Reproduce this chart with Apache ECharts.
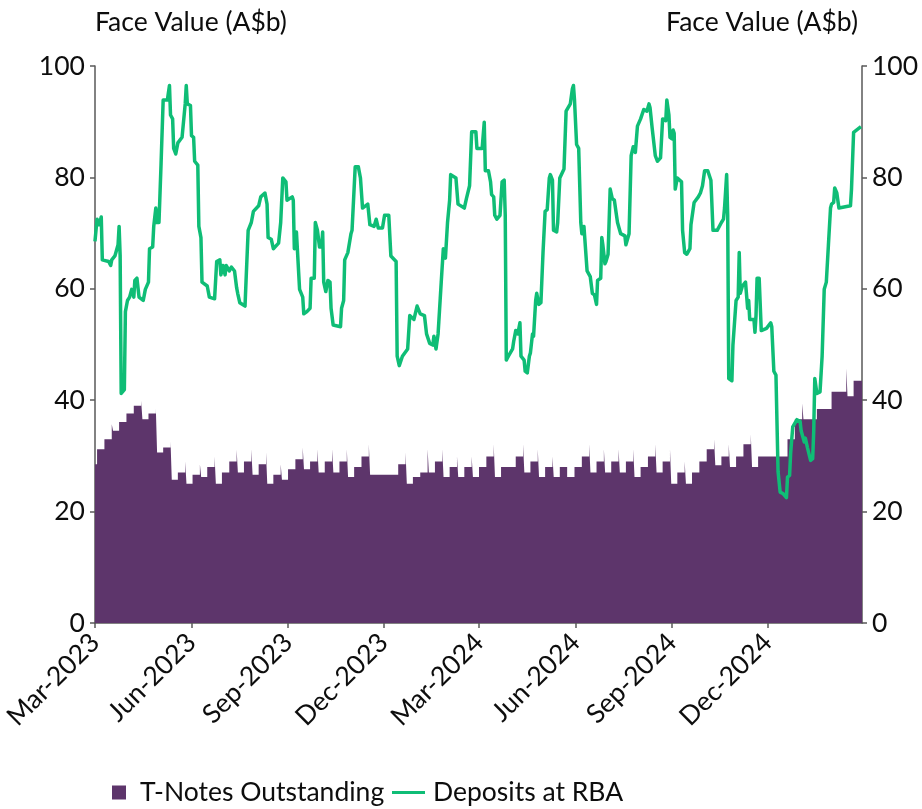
<!DOCTYPE html>
<html>
<head>
<meta charset="utf-8">
<style>
  html, body { margin: 0; padding: 0; background: #fff; }
  #chart { width: 922px; height: 809px; }
</style>
</head>
<body>
<div id="chart"></div>
<script src="https://cdn.jsdelivr.net/npm/echarts@6/dist/echarts.min.js"></script>
<script>
const DAY = 86400000;
const FONT = 'Lato';

// x axis range and tick labels
const xStart = '2023-03-01';
const xEnd = '2025-03-01';
const tickDates = ['2023-03-01', '2023-06-01', '2023-09-01', '2023-12-01',
  '2024-03-01', '2024-06-01', '2024-09-01', '2024-12-01'];
const tickLabels = ['Mar-2023', 'Jun-2023', 'Sep-2023', 'Dec-2023',
  'Mar-2024', 'Jun-2024', 'Sep-2024', 'Dec-2024'];

// T-Notes outstanding (A$b), one level per weekly tender from tnFirstWeek
const tnOpening = 28.5;
const tnFirstWeek = '2023-03-03';
const tnLevel = [
  31.2, 33.0, 34.5, 36.1, 37.6, 39.0, 36.6, 37.6, 30.6, 31.5,
  25.7, 27.0, 25.0, 26.6, 26.2, 28.0, 25.0, 27.0, 29.0, 27.0,
  29.0, 26.6, 28.5, 25.0, 26.6, 25.7, 27.6, 29.4, 27.6, 29.0,
  27.0, 29.0, 27.0, 29.0, 26.2, 28.0, 29.9, 26.6, 26.6, 26.6,
  26.6, 28.5, 25.0, 26.2, 27.0, 27.0, 29.0, 26.2, 28.0, 26.2,
  28.0, 26.2, 28.0, 29.9, 26.2, 28.0, 28.0, 29.9, 27.0, 29.0,
  26.2, 28.0, 26.2, 28.0, 26.2, 28.0, 29.9, 27.0, 29.0, 27.0,
  29.0, 27.0, 29.0, 26.2, 28.0, 29.9, 27.0, 29.0, 25.0, 27.0,
  25.0, 27.0, 29.0, 31.2, 28.3, 29.9, 28.0, 29.9, 32.1, 28.0,
  29.9, 29.9, 29.9, 29.9, 33.0, 36.6, 36.6, 36.6, 38.4, 38.4,
  41.5, 41.5, 40.7, 43.5
];
// short peak on tender day before the maturing line drops out (null = none)
const tnSpike = [
  null, null, 35.7, null, null, null, 39.9, null, 38.5, null,
  32.6, null, 29.0, null, 28.5, null, 29.9, null, null, 31.1,
  null, 31.2, null, 30.6, null, 28.5, null, null, 31.5, null,
  31.2, null, 31.2, null, 31.2, null, null, 32.1, null, null,
  null, null, 30.6, null, null, 31.2, null, 31.2, null, 29.9,
  null, 29.9, null, null, 32.1, null, null, null, 32.1, null,
  31.2, null, 29.9, null, null, null, null, 32.1, null, 31.2,
  null, 31.2, null, 31.2, null, null, 32.1, null, 31.2, null,
  29.0, null, null, null, 33.0, null, 32.1, null, null, 33.9,
  null, null, null, null, null, null, 39.4, null, null, null,
  null, null, 45.7, null
];

// Deposits at RBA (A$b)
const depDates = [
  '2023-03-01', '2023-03-03', '2023-03-05', '2023-03-07', '2023-03-08', '2023-03-14', '2023-03-16', '2023-03-17',
  '2023-03-20', '2023-03-23', '2023-03-24', '2023-03-25', '2023-03-26', '2023-03-29', '2023-03-30', '2023-04-01',
  '2023-04-03', '2023-04-05', '2023-04-07', '2023-04-08', '2023-04-10', '2023-04-12', '2023-04-16', '2023-04-18',
  '2023-04-21', '2023-04-22', '2023-04-25', '2023-04-26', '2023-04-28', '2023-04-29', '2023-05-01', '2023-05-02',
  '2023-05-03', '2023-05-05', '2023-05-09', '2023-05-11', '2023-05-12', '2023-05-14', '2023-05-15', '2023-05-17',
  '2023-05-19', '2023-05-23', '2023-05-26', '2023-05-27', '2023-05-28', '2023-05-31', '2023-06-01', '2023-06-03',
  '2023-06-04', '2023-06-07', '2023-06-08', '2023-06-10', '2023-06-11', '2023-06-16', '2023-06-18', '2023-06-23',
  '2023-06-25', '2023-06-28', '2023-06-29', '2023-07-01', '2023-07-03', '2023-07-04', '2023-07-07', '2023-07-09',
  '2023-07-12', '2023-07-14', '2023-07-15', '2023-07-17', '2023-07-22', '2023-07-23', '2023-07-25', '2023-07-28',
  '2023-07-30', '2023-08-04', '2023-08-06', '2023-08-10', '2023-08-12', '2023-08-13', '2023-08-16', '2023-08-18',
  '2023-08-23', '2023-08-25', '2023-08-27', '2023-08-30', '2023-08-31', '2023-09-05', '2023-09-06', '2023-09-07',
  '2023-09-09', '2023-09-10', '2023-09-12', '2023-09-15', '2023-09-16', '2023-09-19', '2023-09-22', '2023-09-23',
  '2023-09-26', '2023-09-27', '2023-09-29', '2023-10-01', '2023-10-03', '2023-10-04', '2023-10-05', '2023-10-07',
  '2023-10-09', '2023-10-11', '2023-10-12', '2023-10-14', '2023-10-21', '2023-10-22', '2023-10-24', '2023-10-25',
  '2023-10-28', '2023-10-29', '2023-10-31', '2023-11-01', '2023-11-04', '2023-11-07', '2023-11-09', '2023-11-11',
  '2023-11-16', '2023-11-18', '2023-11-22', '2023-11-24', '2023-11-26', '2023-11-30', '2023-12-02', '2023-12-06',
  '2023-12-08', '2023-12-13', '2023-12-14', '2023-12-16', '2023-12-19', '2023-12-24', '2023-12-26', '2023-12-30',
  '2024-01-02', '2024-01-05', '2024-01-09', '2024-01-11', '2024-01-14', '2024-01-17', '2024-01-18', '2024-01-20',
  '2024-01-22', '2024-01-25', '2024-01-27', '2024-01-29', '2024-01-31', '2024-02-02', '2024-02-03', '2024-02-08',
  '2024-02-10', '2024-02-16', '2024-02-18', '2024-02-21', '2024-02-23', '2024-02-27', '2024-02-28', '2024-03-04',
  '2024-03-06', '2024-03-07', '2024-03-10', '2024-03-12', '2024-03-13', '2024-03-15', '2024-03-16', '2024-03-18',
  '2024-03-21', '2024-03-23', '2024-03-25', '2024-03-26', '2024-03-27', '2024-03-29', '2024-04-02', '2024-04-03',
  '2024-04-05', '2024-04-07', '2024-04-09', '2024-04-10', '2024-04-13', '2024-04-14', '2024-04-16', '2024-04-18',
  '2024-04-19', '2024-04-21', '2024-04-22', '2024-04-24', '2024-04-25', '2024-04-27', '2024-04-29', '2024-05-01',
  '2024-05-03', '2024-05-05', '2024-05-07', '2024-05-08', '2024-05-10', '2024-05-11', '2024-05-14', '2024-05-15',
  '2024-05-17', '2024-05-21', '2024-05-23', '2024-05-27', '2024-05-29', '2024-05-30', '2024-05-31', '2024-06-02',
  '2024-06-04', '2024-06-06', '2024-06-07', '2024-06-09', '2024-06-10', '2024-06-12', '2024-06-15', '2024-06-17',
  '2024-06-19', '2024-06-21', '2024-06-22', '2024-06-25', '2024-06-26', '2024-06-27', '2024-06-29', '2024-06-30',
  '2024-07-02', '2024-07-04', '2024-07-06', '2024-07-08', '2024-07-10', '2024-07-11', '2024-07-14', '2024-07-18',
  '2024-07-19', '2024-07-22', '2024-07-24', '2024-07-26', '2024-07-28', '2024-07-30', '2024-08-02', '2024-08-05',
  '2024-08-08', '2024-08-10', '2024-08-11', '2024-08-13', '2024-08-16', '2024-08-18', '2024-08-21', '2024-08-23',
  '2024-08-26', '2024-08-27', '2024-08-29', '2024-08-30', '2024-09-01', '2024-09-02', '2024-09-03', '2024-09-04',
  '2024-09-06', '2024-09-10', '2024-09-11', '2024-09-13', '2024-09-15', '2024-09-18', '2024-09-19', '2024-09-22',
  '2024-09-26', '2024-09-28', '2024-09-30', '2024-10-02', '2024-10-05', '2024-10-08', '2024-10-10', '2024-10-14',
  '2024-10-18', '2024-10-20', '2024-10-21', '2024-10-23', '2024-10-24', '2024-10-25', '2024-10-28', '2024-10-29',
  '2024-10-30', '2024-11-01', '2024-11-03', '2024-11-04', '2024-11-05', '2024-11-07', '2024-11-10', '2024-11-12',
  '2024-11-13', '2024-11-14', '2024-11-18', '2024-11-19', '2024-11-20', '2024-11-21', '2024-11-23', '2024-11-25',
  '2024-11-30', '2024-12-04', '2024-12-05', '2024-12-07', '2024-12-09', '2024-12-11', '2024-12-13', '2024-12-16',
  '2024-12-19', '2024-12-20', '2024-12-22', '2024-12-23', '2024-12-25', '2024-12-29', '2025-01-01', '2025-01-02',
  '2025-01-05', '2025-01-06', '2025-01-08', '2025-01-11', '2025-01-13', '2025-01-14', '2025-01-15', '2025-01-17',
  '2025-01-20', '2025-01-22', '2025-01-24', '2025-01-26', '2025-01-28', '2025-01-30', '2025-01-31', '2025-02-02',
  '2025-02-03', '2025-02-05', '2025-02-07', '2025-02-18', '2025-02-19', '2025-02-21', '2025-02-28'
];
const depValues = [
  68.5, 72.5, 71.5, 72.9, 65.2, 64.9, 64.2, 65.2,
  65.9, 67.9, 71.2, 65.9, 41.2, 41.9, 55.9, 57.9,
  58.5, 59.9, 58.5, 61.5, 61.9, 58.5, 57.9, 59.9,
  61.2, 67.2, 67.5, 71.2, 74.5, 71.9, 71.9, 77.2,
  82.5, 93.9, 93.9, 96.5, 91.2, 90.5, 85.2, 84.2,
  86.2, 87.2, 93.2, 96.5, 93.2, 92.9, 87.5, 87.2,
  82.9, 82.2, 71.2, 69.2, 61.2, 60.5, 58.5, 58.2,
  64.9, 65.2, 62.5, 64.2, 62.5, 64.2, 63.2, 63.9,
  63.2, 60.2, 59.2, 57.5, 56.9, 61.5, 70.5, 71.9,
  73.9, 74.9, 76.5, 77.2, 75.2, 69.2, 68.9, 67.2,
  68.2, 71.9, 79.9, 79.2, 75.9, 76.5, 75.9, 67.2,
  70.2, 69.9, 59.9, 58.5, 55.5, 55.9, 56.5, 61.9,
  61.9, 71.9, 70.5, 67.5, 67.5, 70.2, 61.2, 59.5,
  61.5, 61.2, 56.5, 53.5, 53.2, 56.5, 57.9, 65.2,
  66.5, 66.2, 69.9, 70.5, 81.9, 81.9, 79.9, 74.5,
  75.2, 71.5, 71.2, 72.5, 70.9, 70.9, 73.2, 73.2,
  65.9, 64.9, 47.9, 46.2, 47.9, 49.2, 55.2, 54.5,
  56.9, 55.5, 55.2, 51.9, 50.2, 49.9, 51.5, 49.2,
  51.9, 61.2, 67.2, 65.5, 71.9, 75.9, 80.5, 79.9,
  75.2, 74.5, 76.2, 78.5, 88.2, 88.2, 85.2, 85.2,
  89.9, 81.2, 81.2, 79.2, 76.9, 76.5, 73.2, 72.5,
  73.2, 79.2, 79.5, 73.2, 47.2, 47.9, 49.2, 50.5,
  52.5, 51.9, 53.9, 47.9, 47.2, 45.2, 44.9, 47.9,
  48.5, 51.9, 51.5, 57.9, 59.2, 57.2, 57.5, 66.5,
  73.9, 74.2, 79.9, 80.5, 79.5, 70.5, 70.2, 71.9,
  79.9, 81.5, 91.9, 93.2, 95.9, 96.5, 93.9, 85.9,
  85.2, 71.9, 69.9, 71.2, 70.9, 63.2, 62.2, 59.2,
  58.9, 57.2, 61.5, 61.9, 69.2, 67.9, 64.5, 64.9,
  66.2, 77.9, 76.2, 75.9, 73.2, 71.9, 69.9, 69.5,
  67.9, 69.9, 83.9, 85.5, 84.5, 89.2, 90.5, 92.2,
  91.9, 93.2, 92.5, 88.9, 83.9, 82.9, 83.5, 90.5,
  90.2, 93.9, 91.2, 87.2, 86.9, 88.5, 87.9, 77.9,
  79.9, 79.2, 70.5, 66.5, 66.2, 67.2, 71.5, 75.5,
  76.5, 77.2, 78.5, 81.2, 81.2, 79.5, 70.5, 70.5,
  71.9, 72.5, 74.5, 80.5, 73.2, 43.9, 43.5, 49.9,
  50.2, 57.9, 58.5, 66.5, 59.2, 60.5, 61.2, 56.5,
  57.9, 54.5, 54.5, 52.2, 55.2, 61.9, 61.9, 52.5,
  52.9, 53.9, 53.2, 45.2, 44.5, 27.2, 23.5, 23.2,
  22.5, 26.2, 26.5, 30.5, 35.2, 36.5, 36.2, 34.5,
  32.5, 33.2, 31.5, 29.2, 29.5, 34.5, 43.9, 41.2,
  41.5, 47.9, 59.9, 61.2, 67.9, 74.5, 75.2, 75.5,
  78.1, 77.2, 74.5, 74.9, 77.9, 88.1, 89.1
];

const spikeSpan = 1.2 * DAY;

function buildNotes() {
  const pts = [[Date.parse(xStart), tnOpening]];
  const first = Date.parse(tnFirstWeek);
  tnLevel.forEach((v, k) => {
    const t = first + k * 7 * DAY;
    if (tnSpike[k] != null) {
      pts.push([t, tnSpike[k]]);
      pts.push([t + spikeSpan, v]);
    } else {
      pts.push([t, v]);
    }
  });
  pts.push([Date.parse(xEnd), tnLevel[tnLevel.length - 1]]);
  return pts;
}

const depData = depDates.map((d, i) => [Date.parse(d), depValues[i]]);
const tickTimes = tickDates.map(d => Date.parse(d));

const PURPLE = '#5D356B';
const GREEN = '#0FBD76';
const textStyle = { fontFamily: FONT, fontSize: 26.5, color: '#0d0d0d' };
const axisColor = '#595959';
const axisLine = { show: true, lineStyle: { color: axisColor, width: 1.5 } };

function yAxis(pos) {
  return {
    type: 'value',
    position: pos,
    min: 0,
    max: 100,
    interval: 20,
    name: 'Face Value (A$b)',
    nameLocation: 'end',
    nameGap: 44,
    nameTextStyle: Object.assign({}, textStyle, {
      align: pos === 'left' ? 'left' : 'right',
      verticalAlign: 'middle',
      padding: pos === 'left' ? [0, 0, 0, 0] : [0, 4, 0, 0]
    }),
    axisLine: axisLine,
    axisTick: { show: true, length: 5, lineStyle: { color: axisColor, width: 1.5 } },
    axisLabel: Object.assign({}, textStyle, { margin: 10 }),
    splitLine: { show: false }
  };
}

const chart = echarts.init(document.getElementById('chart'));
chart.setOption({
  backgroundColor: '#fff',
  animation: false,
  grid: { left: 94, right: 60, top: 66, bottom: 186 },
  legend: [
    {
      data: [{ name: 'T-Notes Outstanding', icon: 'rect' }],
      left: 112, top: 779, padding: 0,
      itemWidth: 14, itemHeight: 14,
      selectedMode: false,
      textStyle: Object.assign({}, textStyle, { padding: [0, 0, 0, 9] })
    },
    {
      data: [{ name: 'Deposits at RBA', icon: 'rect' }],
      left: 392, top: 779, padding: 0,
      itemWidth: 33, itemHeight: 3,
      selectedMode: false,
      textStyle: Object.assign({}, textStyle, { padding: [0, 0, 0, 3] })
    }
  ],
  xAxis: {
    type: 'value',
    min: Date.parse(xStart),
    max: Date.parse(xEnd),
    axisLine: axisLine,
    axisTick: { show: true, length: 5, customValues: tickTimes, lineStyle: { color: axisColor, width: 1.5 } },
    axisLabel: Object.assign({}, textStyle, {
      customValues: tickTimes,
      rotate: 45,
      margin: 15,
      formatter: v => tickLabels[tickTimes.indexOf(v)] || ''
    }),
    splitLine: { show: false }
  },
  yAxis: [yAxis('left'), yAxis('right')],
  series: [
    {
      name: 'T-Notes Outstanding',
      type: 'line',
      step: 'end',
      yAxisIndex: 0,
      symbol: 'none',
      data: buildNotes(),
      itemStyle: { color: PURPLE },
      lineStyle: { width: 0 },
      areaStyle: { color: PURPLE, opacity: 1 },
      z: 1
    },
    {
      name: 'Deposits at RBA',
      type: 'line',
      yAxisIndex: 1,
      symbol: 'none',
      data: depData,
      itemStyle: { color: GREEN },
      lineStyle: { width: 3.5, color: GREEN, join: 'round' },
      z: 3
    }
  ]
});
</script>
</body>
</html>
